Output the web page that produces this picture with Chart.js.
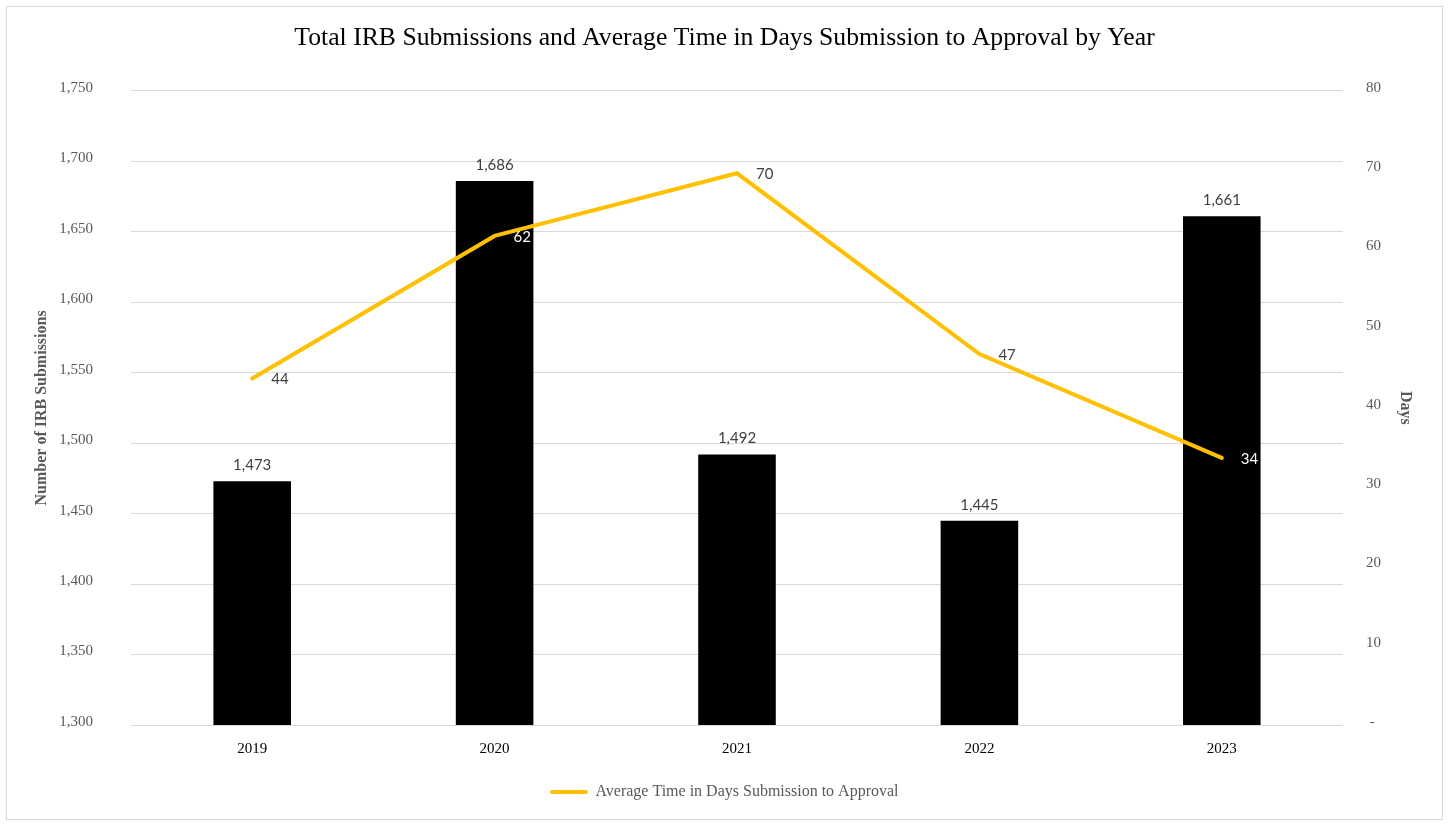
<!DOCTYPE html>
<html>
<head>
<meta charset="utf-8">
<title>IRB Submissions</title>
<script src="https://cdn.jsdelivr.net/npm/chart.js"></script>
<style>
  body { margin: 0; background: #ffffff; }
  canvas { display: block; }
</style>
</head>
<body>
<canvas id="chart" width="1449" height="825"></canvas>
<script>
const years = ['2019', '2020', '2021', '2022', '2023'];
const submissions = [1473, 1686, 1492, 1445, 1661];
const avgDays = [43.7, 61.7, 69.6, 46.8, 33.7];

const serif = '"Liberation Serif", "DejaVu Serif", serif';
const labelFont = 'Lato, "Liberation Sans", sans-serif';

// white page with a thin grey frame, like the exported chart
const framePlugin = {
    id: 'frame',
    beforeDraw(chart) {
        const ctx = chart.ctx;
        ctx.save();
        ctx.fillStyle = '#ffffff';
        ctx.fillRect(0, 0, chart.width, chart.height);
        ctx.strokeStyle = '#d9d9d9';
        ctx.lineWidth = 1;
        ctx.strokeRect(6.5, 6.5, chart.width - 13, chart.height - 12);
        ctx.restore();
    }
};

// value labels: above the bars, right of the line points
const valueLabels = {
    id: 'valueLabels',
    afterDatasetsDraw(chart) {
        const ctx = chart.ctx;
        const barMeta = chart.getDatasetMeta(0);
        const lineMeta = chart.getDatasetMeta(1);
        ctx.save();
        ctx.font = '15px ' + labelFont;
        ctx.textBaseline = 'middle';

        ctx.textAlign = 'center';
        ctx.fillStyle = '#404040';
        barMeta.data.forEach((bar, i) => {
            ctx.fillText(submissions[i].toLocaleString('en-US'), bar.x, bar.y - 16);
        });

        ctx.textAlign = 'left';
        lineMeta.data.forEach((pt, i) => {
            const bar = barMeta.data[i];
            const lx = pt.x + 19;
            const ly = pt.y + 1;
            const onBar = lx > bar.x - bar.width / 2 && lx < bar.x + bar.width / 2 && ly > bar.y;
            ctx.fillStyle = onBar ? '#ffffff' : '#404040';
            ctx.fillText(String(Math.round(avgDays[i])), lx, ly);
        });
        ctx.restore();
    }
};

const ctx = document.getElementById('chart').getContext('2d');
new Chart(ctx, {
    type: 'bar',
    data: {
        labels: years,
        datasets: [{
            type: 'bar',
            label: 'Total IRB Submissions',
            data: submissions,
            backgroundColor: '#000000',
            borderWidth: 0,
            barPercentage: 1,
            categoryPercentage: 0.32,
            yAxisID: 'y',
            order: 1
        }, {
            type: 'line',
            label: 'Average Time in Days Submission to Approval',
            data: avgDays,
            borderColor: '#ffc000',
            backgroundColor: '#ffc000',
            borderWidth: 4,
            pointRadius: 0,
            tension: 0,
            borderCapStyle: 'round',
            yAxisID: 'y1',
            order: 0
        }]
    },
    options: {
        responsive: false,
        animation: false,
        layout: { padding: { left: 10, right: 10, top: 10, bottom: 15 } },
        plugins: {
            tooltip: { enabled: false },
            title: {
                display: true,
                text: 'Total IRB Submissions and Average Time in Days Submission to Approval by Year',
                color: '#000000',
                font: { family: serif, size: 25.7, weight: 'normal' },
                padding: { top: 13, bottom: 37 }
            },
            legend: {
                position: 'bottom',
                labels: {
                    filter: (item) => item.datasetIndex === 1,
                    usePointStyle: true,
                    pointStyle: 'line',
                    pointStyleWidth: 37,
                    color: '#595959',
                    font: { family: serif, size: 16 },
                    padding: 10
                }
            }
        },
        scales: {
            x: {
                grid: { display: false },
                border: { display: false },
                ticks: { color: '#000000', font: { family: serif, size: 15 }, padding: 7 },
                afterFit: (scale) => { scale.height = 49; }
            },
            y: {
                position: 'left',
                min: 1300,
                max: 1750,
                ticks: {
                    stepSize: 50,
                    color: '#595959',
                    font: { family: serif, size: 15 },
                    padding: 38,
                    labelOffset: -3,
                    callback: (v) => v.toLocaleString('en-US')
                },
                grid: { color: '#d9d9d9', lineWidth: 1, drawTicks: false },
                border: { display: false },
                title: {
                    display: true,
                    text: 'Number of IRB Submissions',
                    color: '#595959',
                    font: { family: serif, size: 16, weight: 'bold' },
                    padding: { top: 22, bottom: 0 }
                },
                afterFit: (scale) => { scale.width = 121; }
            },
            y1: {
                position: 'right',
                min: 0,
                max: 80,
                ticks: {
                    stepSize: 10,
                    color: '#595959',
                    font: { family: serif, size: 15 },
                    padding: 23,
                    labelOffset: -3,
                    callback: (v) => (v === 0 ? ' -' : String(v))
                },
                grid: { display: false, drawTicks: false },
                border: { display: false },
                title: {
                    display: true,
                    text: 'Days',
                    color: '#595959',
                    font: { family: serif, size: 16, weight: 'bold' },
                    padding: { top: 24, bottom: 0 }
                },
                afterFit: (scale) => { scale.width = 96; }
            }
        }
    },
    plugins: [framePlugin, valueLabels]
});
</script>
</body>
</html>
